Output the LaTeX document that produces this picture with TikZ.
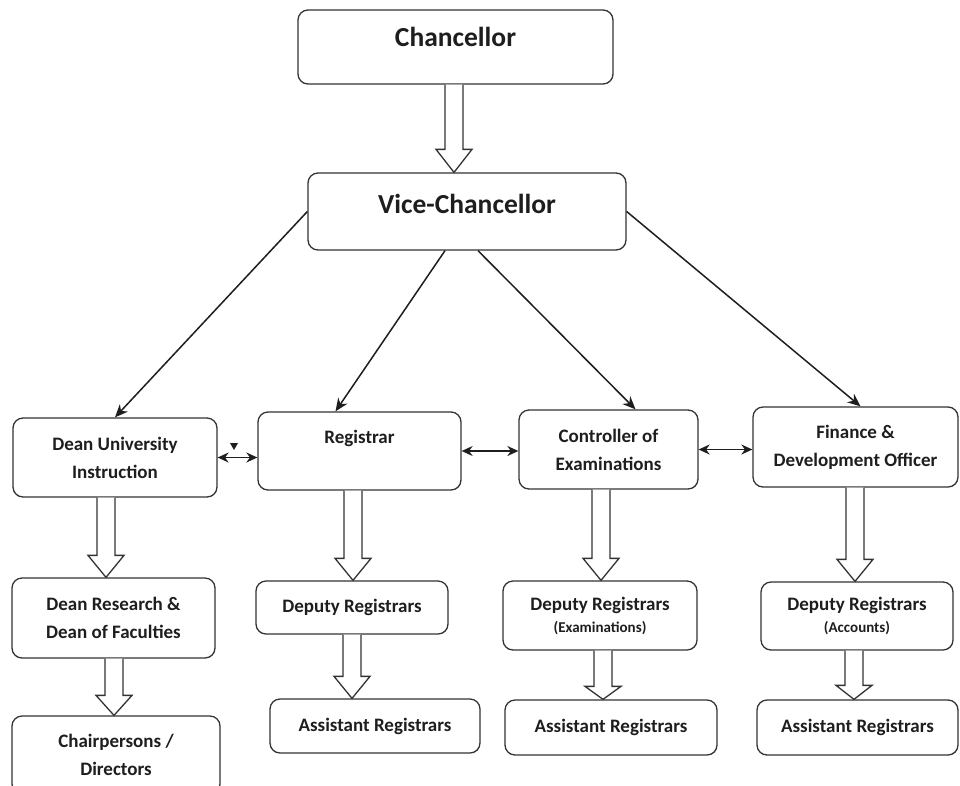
\documentclass[tikz,border=0pt]{standalone}
\usepackage{fontspec}
\setmainfont{Carlito}
\usetikzlibrary{arrows.meta,positioning,calc}
\definecolor{cLine}{HTML}{333333}
\definecolor{cInk}{HTML}{1E1E1E}
\tikzset{
  box/.style    = {draw=cLine, line width=1.3pt, rounded corners=10pt, align=center,
                   inner sep=2pt, text=cInk, font=\bfseries\fontsize{19}{28}\selectfont},
  topbox/.style = {box, font=\bfseries\fontsize{27.5}{30}\selectfont},
  link/.style   = {-{Stealth[length=13pt,width=11pt]}, line width=1.5pt, draw=cInk},
  both/.style   = {{Stealth[length=11pt,width=10pt]}-{Stealth[length=11pt,width=10pt]},
                   line width=1.5pt, draw=cInk},
  hollow/.style = {draw=cLine, line width=1.3pt, fill=white, line join=miter},
}
\newcommand\subfont{\fontsize{15}{18}\selectfont}
% wide hollow arrow: [head length] x, from node, to node
\newcommand\hollowarrow[4][22]{%
  \coordinate (s) at (#2,0 |- #3.south);
  \coordinate (t) at (#2,0 |- #4.north);
  \draw[hollow] ($(s)+(-9,0)$) -- ($(t)+(-9,-#1)$) -- ($(t)+(-18,-#1)$) -- (t)
    -- ($(t)+(18,-#1)$) -- ($(t)+(9,-#1)$) -- ($(s)+(9,0)$);
}

\begin{document}
\begin{tikzpicture}[x=1pt, y=-1pt]
  \fill[white] (0,0) rectangle (960,785);
  \useasboundingbox (0,0) rectangle (960,785);

  % top
  \node[topbox, minimum width=315, minimum height=74, text height=18pt, text depth=20pt]
    (chan) at (455.5,47) {Chancellor};
  \node[topbox, minimum width=318, minimum height=77, text height=18pt, text depth=15pt]
    (vc) at (467,211.5) {Vice-Chancellor};

  % second row
  \node[box, minimum width=204, minimum height=79] (dui) at (115,457.5)
    {Dean University\\Instruction};
  \node[box, minimum width=203, minimum height=78, text height=14pt, text depth=30pt]
    (reg) at (359.5,451) {Registrar};
  \node[box, minimum width=179, minimum height=79] (ctrl) at (608.5,449.5)
    {Controller of\\Examinations};
  \node[box, minimum width=205, minimum height=80] (fin) at (855.5,447)
    {Finance \&\\Development Officer};

  % third row
  \node[box, minimum width=203, minimum height=80] (dr) at (113.5,618)
    {Dean Research \&\\Dean of Faculties};
  \node[box, minimum width=192, minimum height=53] (dreg) at (352,607.5)
    {Deputy Registrars};
  \node[box, minimum width=194, minimum height=69] (dex) at (600,615.5)
    {Deputy Registrars\\[-6pt]{\subfont (Examinations)}};
  \node[box, minimum width=192, minimum height=68] (dacc) at (857,616)
    {Deputy Registrars\\[-6pt]{\subfont (Accounts)}};

  % bottom row
  \node[box, minimum width=208, minimum height=78] (chair) at (116,755)
    {Chairpersons /\\Directors};
  \node[box, minimum width=210, minimum height=54] (areg) at (375,726)
    {Assistant Registrars};
  \node[box, minimum width=212, minimum height=55] (aex) at (611,727.5)
    {Assistant Registrars};
  \node[box, minimum width=201, minimum height=55] (aacc) at (857.5,727.5)
    {Assistant Registrars};

  % hollow arrows
  \hollowarrow[23]{454}{chan}{vc}
  \hollowarrow{106}{dui}{dr}
  \hollowarrow{353}{reg}{dreg}
  \hollowarrow{601}{ctrl}{dex}
  \hollowarrow{855}{fin}{dacc}
  \hollowarrow[20]{114}{dr}{chair}
  \hollowarrow{352}{dreg}{areg}
  \hollowarrow[13]{603}{dex}{aex}
  \hollowarrow[14]{854}{dacc}{aacc}

  % lines from the Vice-Chancellor
  \draw[link] (vc.west) -- (dui.north);
  \draw[link] ($(vc.south)+(-22,0)$) -- ($(reg.north)+(-24,0)$);
  \draw[link] ($(vc.south)+(11,0)$) -- ($(ctrl.north)+(27,0)$);
  \draw[link] (vc.east) -- ($(fin.north)+(5,0)$);

  % links in the second row
  \draw[both] (dui.east) -- (dui.east -| reg.west);
  \draw[both] (reg.east) -- (reg.east -| ctrl.west);
  \draw[both] (ctrl.east) -- (ctrl.east -| fin.west);
  \fill[cInk] (230,443) -- (238,443) -- (234,450) -- cycle;
\end{tikzpicture}
\end{document}
